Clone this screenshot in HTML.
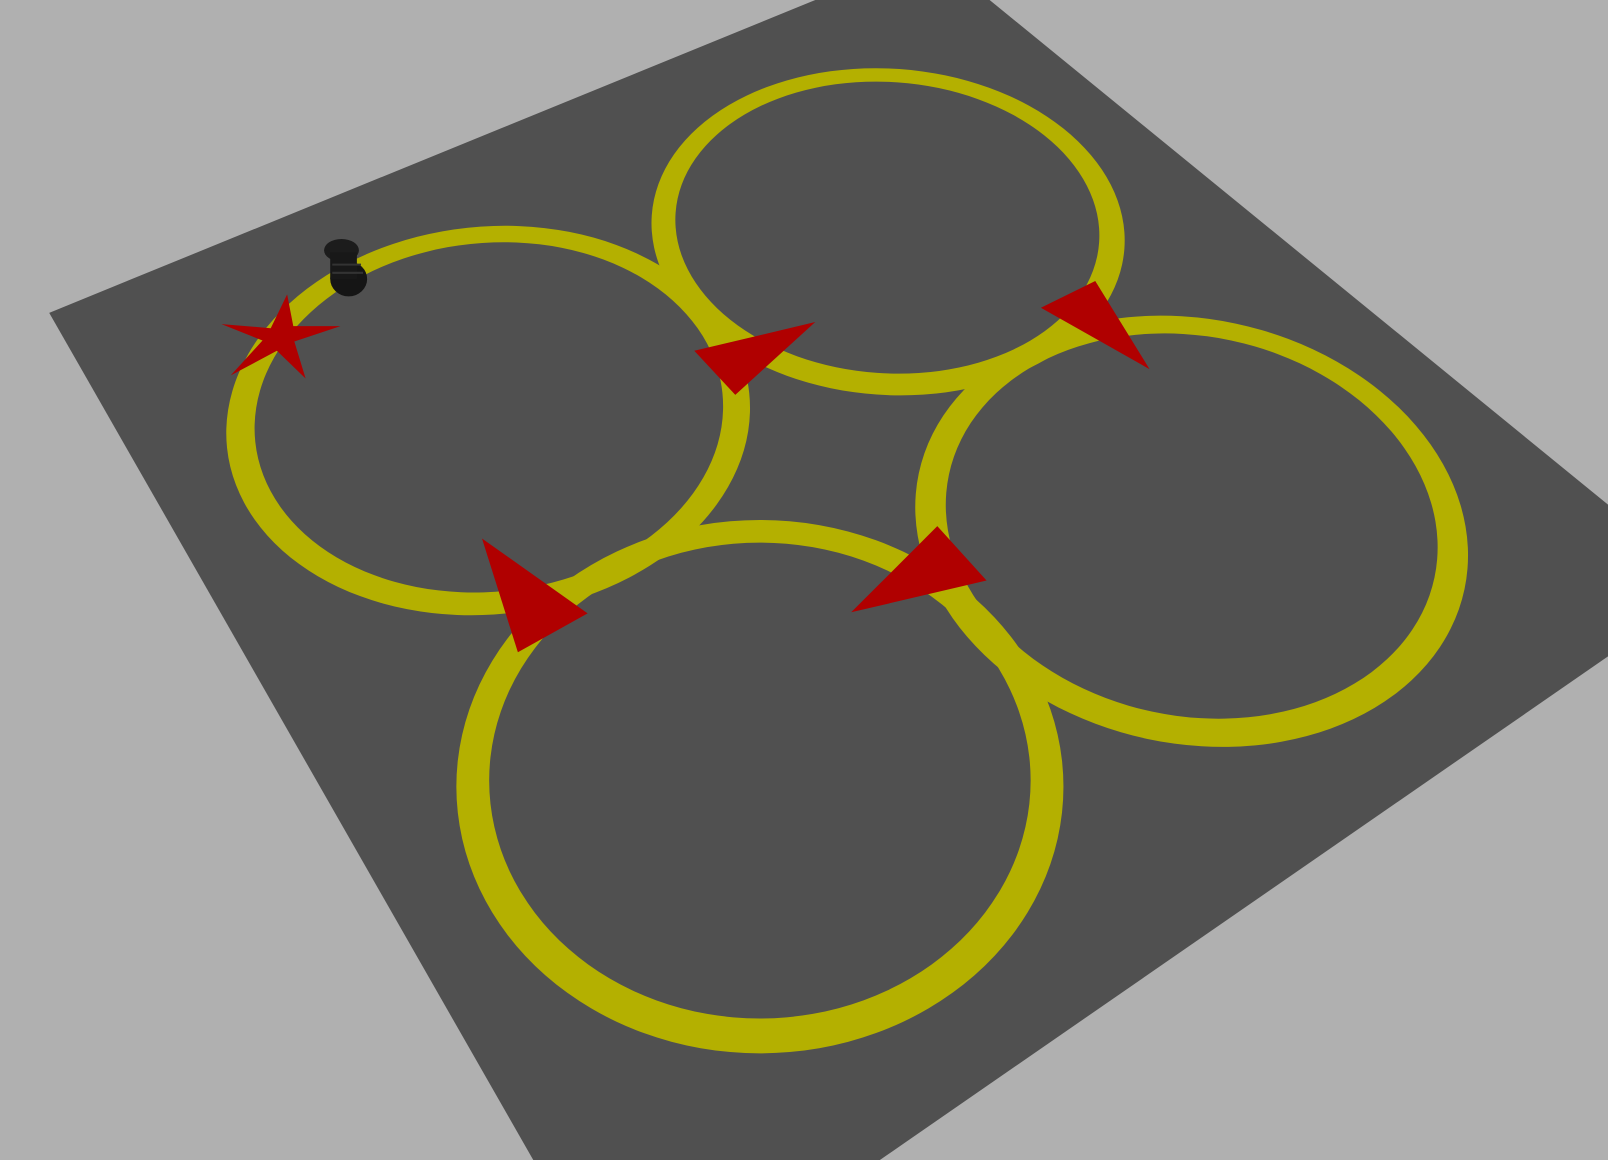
<!DOCTYPE html>
<html><head><meta charset="utf-8"><style>
html,body{margin:0;padding:0;background:#b0b0b0;}
svg{display:block;}
</style></head><body>
<svg id="scene" width="1608" height="1160" viewBox="0 0 1568 1131" preserveAspectRatio="none" xmlns="http://www.w3.org/2000/svg">
<rect x="0" y="0" width="1568" height="1131" fill="#b0b0b0"/>
<polygon points="48,305 795,0 965,0 1568,492 1568,640 858,1131 520,1131" fill="#505050"/>
<g id="rings"></g>
<g id="arrows"></g>
<polygon fill="#b00000" points="280,287 286,318 332,318 287,333 298,369 270,342 225,366 256,332 216,316 264,320"/>
<g>
<ellipse cx="340" cy="272" rx="18" ry="17" fill="#151515"/>
<ellipse cx="333" cy="244" rx="17" ry="11" fill="#1c1c1c"/>
<rect x="322" y="246" width="26" height="26" fill="#181818"/>
<line x1="324" y1="258" x2="352" y2="258" stroke="#333" stroke-width="2"/>
<line x1="324" y1="266" x2="354" y2="266" stroke="#333" stroke-width="2"/>
</g>
</svg>
<script>
// ring geometry: [cx, cy, rx, ry] outer, inner; rotation degrees
const ringNames = ['ring-top-left','ring-top','ring-right','ring-bottom'];
const ringOuter = [[476,410,256,189],[866,226,231,159],[1162,518,272,207],[741,767,296,260]];
const ringInner = [[477,407,229,170],[865,222,207,142],[1161,513,242,185],[741,761,264,232]];
const ringRot = [-6,4,12,0];
const arrowPoints = [
  [[677,342],[795,314],[717,385]],
  [[1015,300],[1068,274],[1121,360]],
  [[470,525],[573,598],[505,636]],
  [[830,597],[914,513],[962,566]]
];
const NS='http://www.w3.org/2000/svg';
function ell(c){const [x,y,rx,ry]=c;return `M${x-rx},${y} a${rx},${ry} 0 1,0 ${2*rx},0 a${rx},${ry} 0 1,0 ${-2*rx},0 Z`;}
const rg=document.getElementById('rings');
ringOuter.forEach((o,i)=>{
  const p=document.createElementNS(NS,'path');
  p.setAttribute('d',ell(o)+' '+ell(ringInner[i]));
  p.setAttribute('fill','#b4b000');
  p.setAttribute('fill-rule','evenodd');
  p.setAttribute('transform',`rotate(${ringRot[i]} ${o[0]} ${o[1]})`);
  
  
  rg.appendChild(p);
});
const ag=document.getElementById('arrows');
arrowPoints.forEach((pts,i)=>{
  const p=document.createElementNS(NS,'polygon');
  p.setAttribute('points',pts.map(q=>q.join(',')).join(' '));
  p.setAttribute('fill','#b00000');
  
  
  ag.appendChild(p);
});
</script>
</body></html>
